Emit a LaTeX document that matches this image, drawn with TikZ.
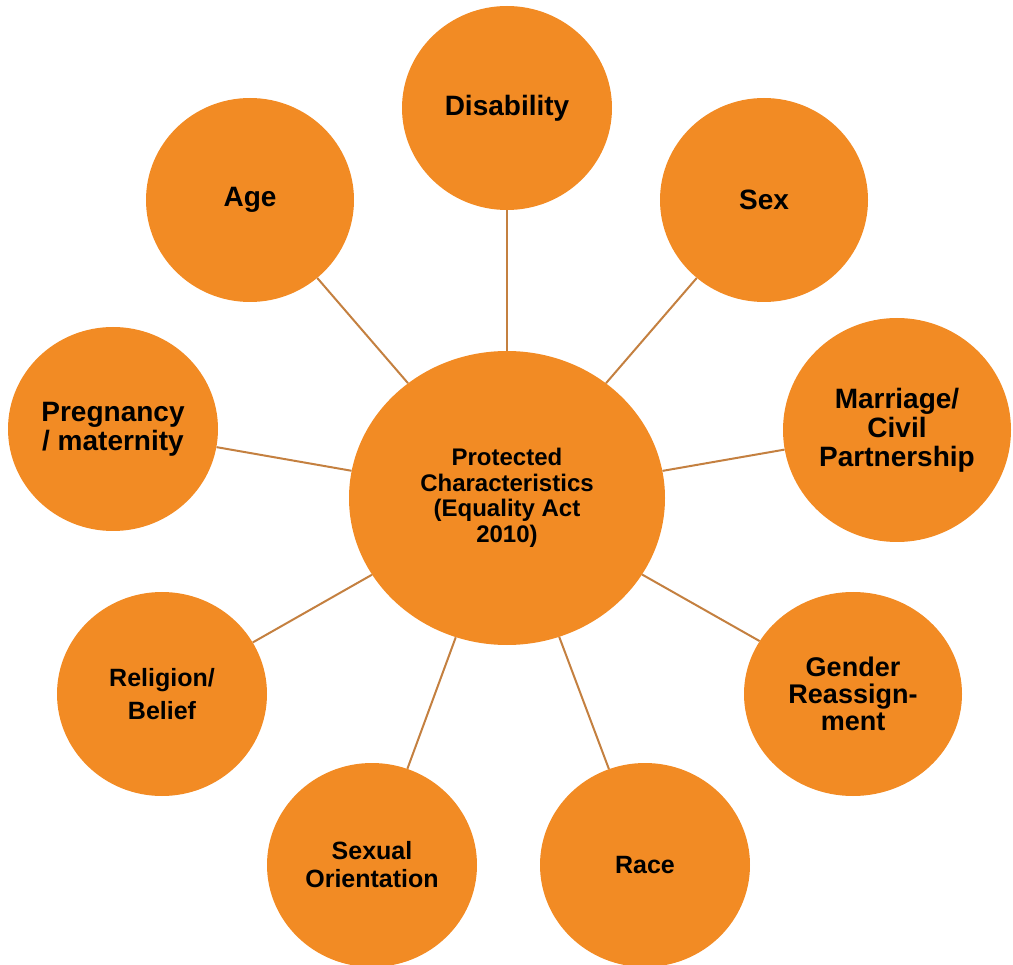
\documentclass[tikz,border=0pt]{standalone}
\usepackage{fontspec}
\setmainfont{Liberation Sans}
\usetikzlibrary{shapes.geometric}
\definecolor{topicfill}{RGB}{242,139,36}
\definecolor{linkline}{RGB}{196,128,64}
\tikzstyle{topic}=[ellipse, fill=topicfill, inner sep=0pt, align=center, text=black, font=\bfseries\fontsize{28}{29}\selectfont, minimum width=210pt, minimum height=204pt]
\tikzstyle{link}=[draw=linkline, line width=2pt]

\begin{document}
\begin{tikzpicture}[x=1pt, y=1pt]
		\useasboundingbox (0, 0) rectangle (1013, -965);
		\node(centre)[topic, minimum width=316pt, minimum height=294pt, font=\bfseries\fontsize{24}{25.5}\selectfont] at (507, -498) {Protected\\Characteristics\\(Equality Act\\2010)};
		\node(disability)[topic] at (507, -108) {Disability};
		\node(sex)[topic, minimum width=208pt] at (764, -200) {Sex};
		\node(age)[topic, minimum width=208pt] at (250, -200) {Age};
		\node(pregnancy)[topic] at (113, -429) {Pregnancy\\/ maternity};
		\node(marriage)[topic, minimum width=228pt, minimum height=224pt] at (897, -430) {Marriage/\\Civil\\Partnership};
		\node(religion)[topic, font=\bfseries\fontsize{25}{33}\selectfont] at (162, -694) {Religion/\\Belief};
		\node(gender)[topic, minimum width=218pt, font=\bfseries\fontsize{27}{27}\selectfont] at (853, -694) {Gender\\Reassign-\\ment};
		\node(sexual)[topic, font=\bfseries\fontsize{25}{28}\selectfont] at (372, -865) {Sexual\\Orientation};
		\node(race)[topic, font=\bfseries\fontsize{25}{28}\selectfont] at (645, -865) {Race};
		\draw[link] (centre) -- (disability);
		\draw[link] (centre) -- (sex);
		\draw[link] (centre) -- (age);
		\draw[link] (centre) -- (pregnancy);
		\draw[link] (centre) -- (marriage);
		\draw[link] (centre) -- (religion);
		\draw[link] (centre) -- (gender);
		\draw[link] (centre) -- (sexual);
		\draw[link] (centre) -- (race);
		\end{tikzpicture}
\end{document}
